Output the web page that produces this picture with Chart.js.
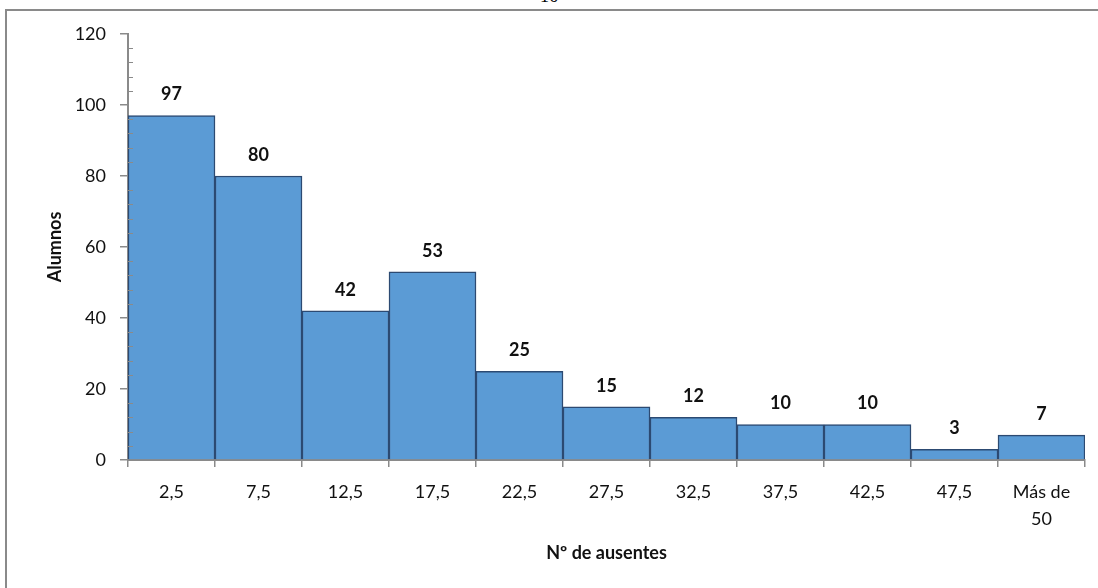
<!DOCTYPE html>
<html>
<head>
<meta charset="utf-8">
<script src="https://cdn.jsdelivr.net/npm/chart.js@4/dist/chart.umd.min.js"></script>
<style>
  html, body { margin: 0; padding: 0; background: #fff; overflow: hidden; }
  #wrap { position: relative; width: 1098px; height: 588px; }
  #frame { position: absolute; left: 5px; top: 9px; width: 1200px; height: 700px;
           border-left: 2px solid #8a8a8a; border-top: 2px solid #8a8a8a; }
  #pageNum { position: absolute; left: 540px; top: -14px; font: 18px "Liberation Serif", serif; color: #000; }
  canvas { position: absolute; left: 0; top: 0; }
</style>
</head>
<body>
<div id="wrap">
  <div id="pageNum">16</div>
  <div id="frame"></div>
  <canvas id="histChart" width="1098" height="588"></canvas>
</div>
<script>
// Histogram data
const categories = ['2,5', '7,5', '12,5', '17,5', '22,5', '27,5', '32,5', '37,5', '42,5', '47,5', ['Más de', '50']];
const alumnos = [97, 80, 42, 53, 25, 15, 12, 10, 10, 3, 7];
const yMax = 120;
const yMajorStep = 20;
const yMinorStep = 4;

const FONT = 'Lato, "Open Sans", sans-serif';
const AXIS_GRAY = '#8a8a8a';
const TEXT = '#111';

// minor ticks inside the y axis + value labels above bars
const extras = {
  id: 'extras',
  afterDatasetsDraw(chart) {
    const ctx = chart.ctx;
    const y = chart.scales.y;
    ctx.save();
    ctx.strokeStyle = AXIS_GRAY;
    ctx.lineWidth = 1;
    for (let v = 0; v <= yMax; v += yMinorStep) {
      if (v % yMajorStep === 0) continue;
      const py = Math.round(y.getPixelForValue(v)) + 0.5;
      ctx.beginPath();
      ctx.moveTo(y.right, py);
      ctx.lineTo(y.right + 5, py);
      ctx.stroke();
    }
    // labels
    const meta = chart.getDatasetMeta(0);
    ctx.fillStyle = TEXT;
    ctx.font = 'bold 18px ' + FONT;
    ctx.textAlign = 'center';
    ctx.textBaseline = 'bottom';
    meta.data.forEach((bar, i) => {
      ctx.fillText(String(alumnos[i]), bar.x, bar.y - 12);
    });
    ctx.restore();
  }
};

new Chart(document.getElementById('histChart'), {
  type: 'bar',
  data: {
    labels: categories,
    datasets: [{
      data: alumnos,
      backgroundColor: '#5b9bd5',
      borderColor: '#2c4a72',
      borderWidth: 1.5,
      barPercentage: 1,
      categoryPercentage: 1
    }]
  },
  options: {
    responsive: false,
    animation: false,
    layout: { padding: { left: 40, right: 13, top: 34, bottom: 20 } },
    plugins: { legend: { display: false }, tooltip: { enabled: false } },
    scales: {
      x: {
        offset: true,
        grid: { display: true, offset: true, drawOnChartArea: false, tickLength: 7, color: AXIS_GRAY, lineWidth: 1.5 },
        border: { color: AXIS_GRAY, width: 2 },
        ticks: { color: TEXT, font: { family: FONT, size: 18, lineHeight: 1.5 }, padding: 12, maxRotation: 0, autoSkip: false },
        title: { display: true, text: 'Nº de ausentes', color: TEXT, font: { family: FONT, size: 18, weight: 'bold' }, padding: { top: 4 } },
        afterFit: s => { s.height = 588 - 460 - 20; }
      },
      y: {
        min: 0,
        max: yMax,
        ticks: {
          stepSize: yMinorStep,
          autoSkip: false,
          color: TEXT,
          font: { family: FONT, size: 18 },
          padding: 14,
          callback: v => (v % yMajorStep === 0 ? v : '')
        },
        grid: {
          drawOnChartArea: false,
          tickLength: 8,
          lineWidth: 1.5,
          color: c => (c.tick && c.tick.value % yMajorStep === 0 ? AXIS_GRAY : 'rgba(0,0,0,0)')
        },
        border: { color: AXIS_GRAY, width: 2 },
        title: { display: true, text: 'Alumnos', color: TEXT, font: { family: FONT, size: 18, weight: 'bold' }, padding: { bottom: 12 } },
        afterFit: s => { s.width = 128 - 40; }
      }
    }
  },
  plugins: [extras]
});
</script>
</body>
</html>
